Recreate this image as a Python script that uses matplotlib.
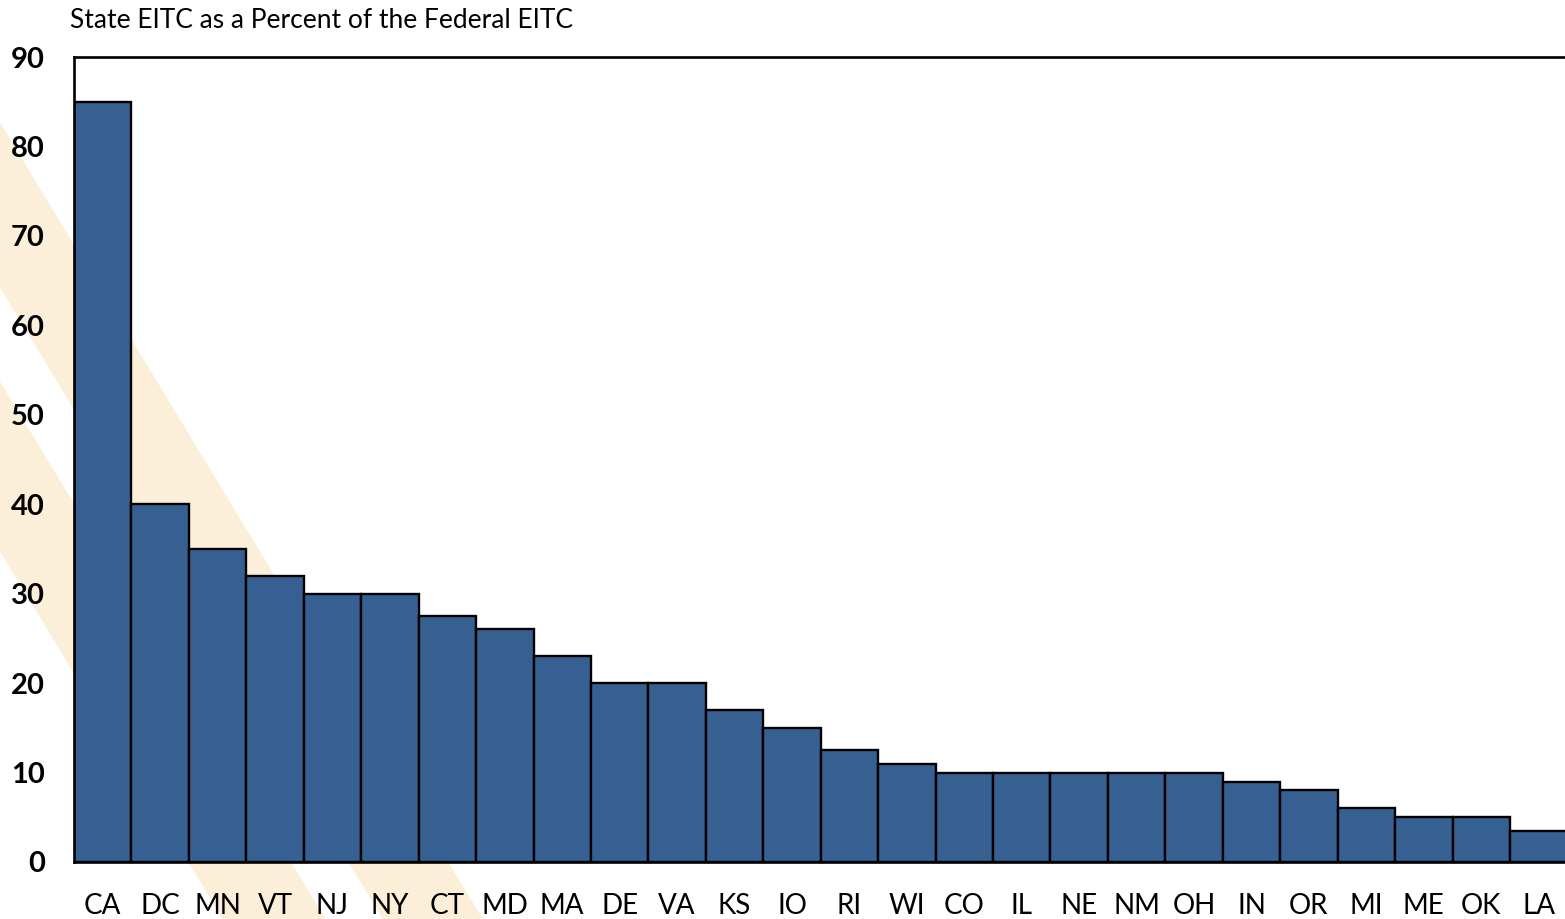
import matplotlib.pyplot as plt
from matplotlib.patches import Polygon

# state EITC as % of federal EITC
states = ["CA", "DC", "MN", "VT", "NJ", "NY", "CT", "MD", "MA", "DE", "VA", "KS", "IO",
          "RI", "WI", "CO", "IL", "NE", "NM", "OH", "IN", "OR", "MI", "ME", "OK", "LA"]
pct = [85, 40, 35, 32, 30, 30, 27.5, 26, 23, 20, 20, 17, 15,
       12.5, 11, 10, 10, 10, 10, 10, 9, 8, 6, 5, 5, 3.5]
yticks = [0, 10, 20, 30, 40, 50, 60, 70, 80, 90]

W, H = 1565, 919
plt.rcParams['font.family'] = ['Lato', 'DejaVu Sans']
fig = plt.figure(figsize=(W / 100, H / 100), dpi=100)

# background axes with the light diagonal bands (watermark)
bg = fig.add_axes([0, 0, 1, 1], zorder=-1)
bg.set_xlim(0, W)
bg.set_ylim(H, 0)
bg.axis("off")
slope = 1.65
for xa, xb in [(190, 293), (350, 450)]:
    pts = [(x0 + (y - 865) / slope, y) for x0, y in [(xa, 0), (xb, 0), (xb, H), (xa, H)]]
    bg.add_patch(Polygon(pts, closed=True, facecolor="#FCEFD9", edgecolor="none"))

left, right, top, bottom = 74, 1567.4, 57, 862
ax = fig.add_axes([left / W, 1 - bottom / H, (right - left) / W, (bottom - top) / H])
ax.patch.set_alpha(0)

ax.bar(range(len(states)), pct, width=1.0, color="#366092", edgecolor="black", linewidth=1.7)

ax.set_xlim(-0.5, len(states) - 0.5)
ax.set_ylim(0, 90)
ax.set_yticks(yticks)
ax.set_xticks(range(len(states)))
ax.set_xticklabels(states)
ax.tick_params(axis="y", length=0, pad=21, labelsize=21)
ax.tick_params(axis="x", length=0, pad=22, labelsize=20)
for lab in ax.get_yticklabels():
    lab.set_fontweight("bold")

for s in ["left", "top", "bottom"]:
    ax.spines[s].set_linewidth(1.9)
ax.spines["right"].set_visible(False)

fig.text(70 / W, 1 - 20 / H, "State EITC as a Percent of the Federal EITC",
         fontsize=19, va="center", ha="left")

fig.savefig("out.png", dpi=100)
